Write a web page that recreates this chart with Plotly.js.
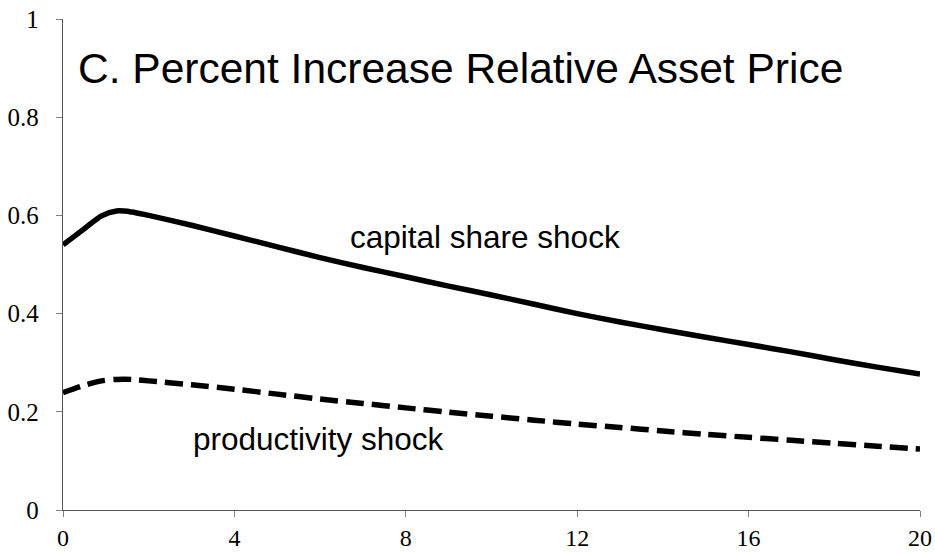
<!DOCTYPE html>
<html>
<head>
<meta charset="utf-8">
<script src="https://cdn.plot.ly/plotly-3.0.1.min.js"></script>
<style>html,body{margin:0;padding:0;background:#fff;}#chart{width:935px;height:554px;}</style>
</head>
<body>
<div id="chart"></div>
<script>
const periods = [0, 0.5, 0.9, 1.25, 1.6, 2, 3, 4, 5, 6, 7, 8, 9, 10, 11, 12, 13, 14, 15, 16, 17, 18, 19, 20];
const capitalShareShock = [0.540, 0.573, 0.599, 0.609, 0.607, 0.600, 0.580, 0.558, 0.536, 0.514, 0.494, 0.475, 0.456, 0.438, 0.419, 0.400, 0.383, 0.367, 0.352, 0.337, 0.322, 0.306, 0.291, 0.277];
const productivityShock = [0.239, 0.254, 0.263, 0.266, 0.266, 0.263, 0.255, 0.246, 0.236, 0.226, 0.217, 0.208, 0.199, 0.191, 0.183, 0.175, 0.168, 0.161, 0.154, 0.148, 0.142, 0.136, 0.130, 0.124];
const xTicks = [0, 4, 8, 12, 16, 20];
const yTicks = [0, 0.2, 0.4, 0.6, 0.8, 1];
const yTickLabels = ["0", "0.2", "0.4", "0.6", "0.8", "1"];
const titleText = "C. Percent Increase Relative Asset Price";
const label1 = "capital share shock";
const label2 = "productivity shock";

const serif = "'Liberation Serif', 'Times New Roman', Times, serif";
const sans = "'Liberation Sans', Arial, sans-serif";

const traces = [
  {x: periods, y: capitalShareShock, type: 'scatter', mode: 'lines', name: label1,
   line: {color: '#000', width: 5.5, shape: 'spline', smoothing: 0.8}},
  {x: periods, y: productivityShock, type: 'scatter', mode: 'lines', name: label2,
   line: {color: '#000', width: 5.5, dash: '18px,8px', shape: 'spline', smoothing: 0.8}}
];

const layout = {
  width: 935, height: 554,
  margin: {l: 63, r: 15, t: 19, b: 44, pad: 0},
  paper_bgcolor: '#fff', plot_bgcolor: '#fff',
  showlegend: false,
  title: {text: titleText, xref: 'paper', yref: 'container', x: 0.0175, xanchor: 'left', y: 0.877, yanchor: 'middle',
          font: {family: sans, size: 42.5, color: '#000'}},
  xaxis: {range: [0, 20], tickvals: xTicks, ticktext: xTicks.map(String), showgrid: false, zeroline: false,
          showline: true, linecolor: '#555', linewidth: 1.3, ticks: 'outside', ticklen: 6, tickcolor: '#808080',
          ticklabelstandoff: 0,
          tickfont: {family: serif, size: 24, color: '#000'}, fixedrange: true},
  yaxis: {range: [0, 1], tickvals: yTicks, ticktext: yTickLabels, showgrid: false, zeroline: false,
          showline: true, linecolor: '#555', linewidth: 1.3, ticks: 'outside', ticklen: 6, tickcolor: '#808080',
          ticklabelstandoff: 12,
          tickfont: {family: serif, size: 25, color: '#000'}, fixedrange: true},
  annotations: [
    {x: 9.84, y: 0.555, xref: 'x', yref: 'y', text: label1, showarrow: false, xanchor: 'center', yanchor: 'middle',
     font: {family: sans, size: 31.5, color: '#000'}},
    {x: 5.97, y: 0.144, xref: 'x', yref: 'y', text: label2, showarrow: false, xanchor: 'center', yanchor: 'middle',
     font: {family: sans, size: 31.5, color: '#000'}}
  ]
};

Plotly.newPlot('chart', traces, layout, {displayModeBar: false, staticPlot: true});
</script>
</body>
</html>
